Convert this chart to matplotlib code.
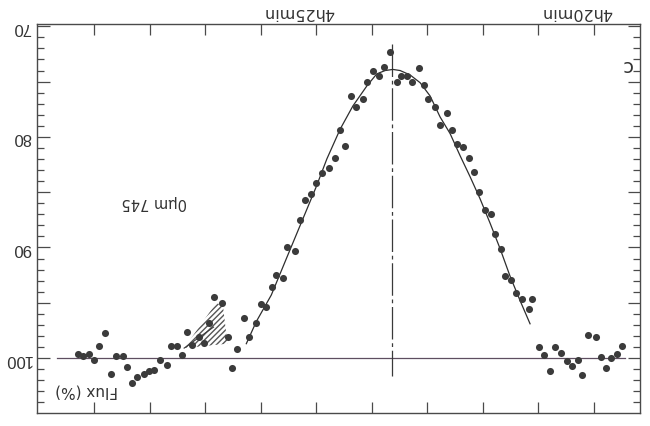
import matplotlib.pyplot as plt
import matplotlib.transforms as mtransforms
from matplotlib.ticker import MultipleLocator

plt.rcParams['font.family'] = ['DejaVu Sans']

# -----------------------------
# data (time = minutes after 4h, flux in %)
# -----------------------------
time_min = [29.30, 29.20, 29.10, 29.00, 28.91, 28.81, 28.69, 28.60, 28.48, 28.40,
            28.32, 28.22, 28.11, 28.02, 27.92, 27.81, 27.69, 27.62, 27.50, 27.42,
            27.32, 27.23, 27.12, 27.03, 26.93, 26.84, 26.70, 26.59, 26.51, 26.42,
            26.31, 26.22, 26.08, 26.00, 25.90, 25.80, 25.72, 25.60, 25.52, 25.39,
            25.30, 25.21, 25.10, 25.00, 24.90, 24.77, 24.67, 24.57, 24.48, 24.38,
            24.28, 24.15, 24.09, 23.98, 23.87, 23.78, 23.67, 23.55, 23.47, 23.36,
            23.28, 23.15, 23.06, 22.98, 22.86, 22.77, 22.65, 22.56, 22.47, 22.35,
            22.25, 22.16, 22.07, 21.96, 21.85, 21.78, 21.68, 21.60, 21.50, 21.40,
            21.30, 21.17, 21.11, 20.99, 20.90, 20.79, 20.70, 20.59, 20.49, 20.39,
            20.29, 20.21, 20.10, 19.96, 19.88, 19.78, 19.69, 19.58, 19.49]
flux_pct = [99.6, 99.8, 99.6, 100.2, 98.9, 97.7, 101.4, 99.8, 99.8, 100.8,
            102.3, 101.7, 101.4, 101.2, 101.1, 100.2, 100.6, 98.9, 98.9, 99.7,
            97.6, 98.8, 98.1, 98.6, 96.8, 94.5, 95.0, 98.1, 100.9, 99.2,
            96.4, 98.1, 96.8, 95.1, 95.4, 93.6, 92.5, 92.8, 90.0, 90.3,
            87.5, 85.7, 85.2, 84.2, 83.3, 82.8, 81.9, 79.4, 80.8, 76.3,
            77.3, 76.6, 75.0, 74.0, 74.5, 73.7, 72.3, 75.0, 74.5, 74.5,
            75.0, 73.8, 75.3, 76.6, 77.3, 78.9, 77.8, 79.4, 80.6, 80.9,
            81.9, 83.2, 85.0, 86.6, 87.0, 88.8, 90.1, 92.6, 92.9, 94.1,
            94.7, 95.6, 94.7, 99.0, 99.7, 101.2, 99.0, 99.5, 100.3, 100.7,
            100.2, 101.5, 97.9, 98.1, 99.9, 100.9, 100.0, 99.6, 98.9]

# fitted curve
fit_time = [26.26, 26.08, 25.81, 25.53, 25.29, 25.00, 24.81, 24.57, 24.34, 24.09,
            23.91, 23.76, 23.62, 23.49, 23.31, 23.13, 22.95, 22.77, 22.59, 22.41,
            22.23, 22.05, 21.87, 21.69, 21.51, 21.33, 21.15]
fit_flux = [98.7, 96.7, 94.3, 90.9, 88.0, 84.5, 82.0, 79.3, 77.2, 75.4,
            74.3, 74.0, 73.9, 74.0, 74.4, 75.1, 76.3, 78.2, 79.7, 81.7,
            83.6, 85.6, 87.8, 90.1, 92.6, 94.8, 96.9]

# hatched wedge and its drawn edge
hatch_time = [27.38, 26.80, 26.68, 26.60]
hatch_flux = [99.1, 95.0, 95.3, 98.7]
edge_time = [27.38, 26.85]
edge_flux = [99.1, 97.2]

# mid-event marker and 100 % level
t_mid = 23.63
mid_flux = [71.6, 101.6]
base_time = [29.67, 19.44]
base_flux = [100, 100]

flux_ticks = [70, 75, 80, 85, 90, 95, 100]
flux_labels = ["70", "", "80", "", "90", "", "100"]
time_ticks = list(range(20, 30))
time_labels = ["4h25min", "4h20min"]
time_label_pos = [25, 20]

# -----------------------------
# plot
# -----------------------------
fig = plt.figure(figsize=(6.5, 4.27), dpi=100)
ax = fig.add_axes([0.0569, 0.0304, 0.9277, 0.9111])
ax.set_xlim(30.03, 19.17)
ax.set_ylim(104.97, 69.79)

ax.fill(hatch_time, hatch_flux, facecolor="none", edgecolor="#555555",
        hatch="//////", linewidth=0)
ax.plot(edge_time, edge_flux, color="#3a3a3a", lw=0.8)
ax.plot(base_time, base_flux, color="#5e4e60", lw=0.9)
ax.plot([t_mid, t_mid], mid_flux, color="#3a3a3a", lw=0.9, dashes=(26, 3, 3, 3))
ax.plot(fit_time, fit_flux, color="#2e2e2e", lw=0.9)
ax.scatter(time_min, flux_pct, s=26, color="#3b3b3b", linewidths=0, zorder=3)

for s in ax.spines.values():
    s.set_color("#4a4a4a")
    s.set_linewidth(1)

ax.set_xticks(time_ticks)
ax.tick_params(axis="x", which="both", direction="in", top=True, bottom=True,
               length=8, width=0.9, color="#4a4a4a",
               labelbottom=False, labeltop=False)

ax.yaxis.set_minor_locator(MultipleLocator(1))
ax.set_yticks(flux_ticks)
ax.set_yticklabels(flux_labels, rotation=180, va="center",
                   family=["Liberation Sans", "DejaVu Sans"])
ax.tick_params(axis="y", which="major", direction="in", left=True, right=True,
               length=9, width=0.9, color="#4a4a4a", labelsize=12, pad=4,
               labelcolor="#333333")
ax.tick_params(axis="y", which="minor", direction="in", left=True, right=True,
               length=5, width=0.9, color="#4a4a4a")

# upside-down text, as in the scan
trans = mtransforms.blended_transform_factory(ax.transData, ax.transAxes)
for lab, t in zip(time_labels, time_label_pos):
    ax.text(t + 0.31, 1.033, lab, transform=trans, rotation=180,
            ha="center", va="center", fontsize=11.5, color="#333333")

ax.text(0.082, 0.058, "Flux (%)", transform=ax.transAxes, rotation=180,
        ha="center", va="center", fontsize=11, color="#333333")
ax.text(0.194, 0.544, "0μm 745", transform=ax.transAxes, rotation=180,
        ha="center", va="center", fontsize=10.5, color="#333333")
ax.text(0.977, 0.895, "c", transform=ax.transAxes, rotation=180,
        ha="center", va="center", fontsize=14, color="#333333")

fig.savefig("out.png", dpi=100)
